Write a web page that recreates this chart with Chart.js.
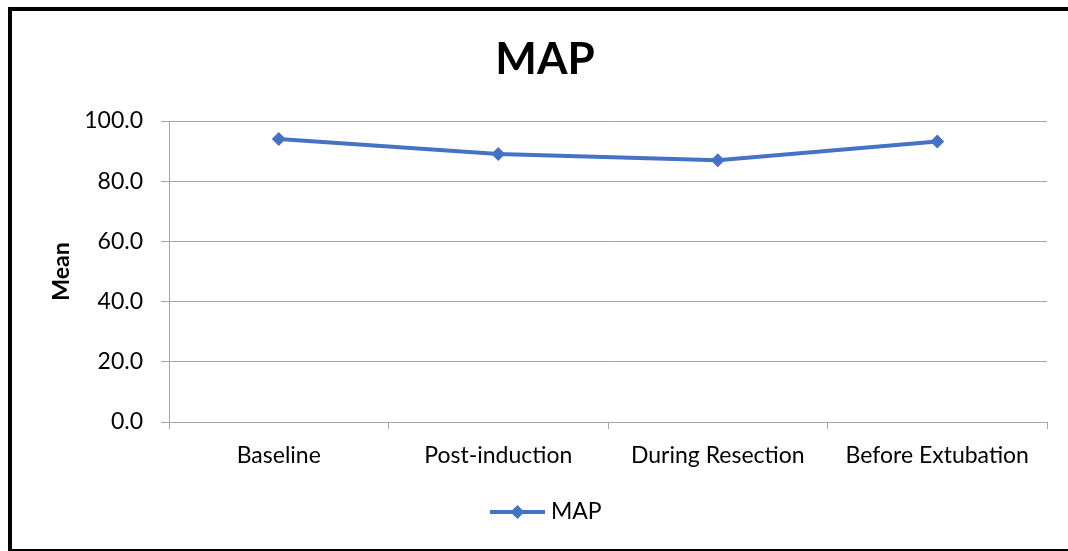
<!DOCTYPE html>
<html>
<head>
<meta charset="utf-8">
<script src="https://cdn.jsdelivr.net/npm/chart.js@4/dist/chart.umd.min.js"></script>
<style>
  html, body { margin: 0; padding: 0; background: #fff; }
  #wrap { width: 1068px; height: 551px; position: relative; }
</style>
</head>
<body>
<div id="wrap"><canvas id="c" width="1068" height="551"></canvas></div>
<script>
// Mean arterial pressure at each stage of the procedure
const categories = ['Baseline', 'Post-induction', 'During Resection', 'Before Extubation'];
const mapValues = [94.0, 89.0, 87.0, 93.2];
const yTicks = [0, 20, 40, 60, 80, 100];

const BLUE = '#4472C4';
const GRID = '#A6A6A6';
const FONT = 'Lato, "Open Sans", sans-serif';

// Legend symbol: a short line with a diamond in its middle
function legendSymbol() {
  const cv = document.createElement('canvas');
  cv.width = 55; cv.height = 16;
  const g = cv.getContext('2d');
  g.strokeStyle = BLUE; g.lineWidth = 4;
  g.beginPath(); g.moveTo(0, 8); g.lineTo(55, 8); g.stroke();
  g.fillStyle = BLUE;
  g.beginPath(); g.moveTo(27.5, 1); g.lineTo(34.5, 8); g.lineTo(27.5, 15); g.lineTo(20.5, 8); g.closePath(); g.fill();
  return cv;
}

// White background plus the black outer frame
const framePlugin = {
  id: 'frame',
  beforeDraw(chart) {
    const ctx = chart.ctx;
    ctx.save();
    ctx.fillStyle = '#fff';
    ctx.fillRect(0, 0, chart.width, chart.height);
    ctx.fillStyle = '#000';
    ctx.fillRect(8, 7, chart.width - 8, 4);
    ctx.fillRect(8, 7, 4, chart.height - 7);
    ctx.fillRect(8, 549, chart.width - 8, 2);
    ctx.restore();
  }
};

// Centre the title and legend on the framed area rather than the plot box
const centreBlocks = {
  id: 'centreBlocks',
  afterLayout(chart) {
    if (chart.titleBlock) { chart.titleBlock.left = 22; chart.titleBlock.right = 1068; }
    if (chart.legend) { chart.legend.left += 19; chart.legend.right += 19; }
  }
};

new Chart(document.getElementById('c'), {
  type: 'line',
  data: {
    labels: categories,
    datasets: [{
      label: 'MAP',
      data: mapValues,
      borderColor: BLUE,
      backgroundColor: BLUE,
      borderWidth: 4,
      pointStyle: 'rectRot',
      pointRadius: 7,
      pointHoverRadius: 7,
      pointBackgroundColor: BLUE,
      pointBorderColor: BLUE,
      pointBorderWidth: 0,
      tension: 0
    }]
  },
  options: {
    responsive: false,
    animation: false,
    devicePixelRatio: 1,
    layout: { padding: { left: 12, right: 21, top: 0, bottom: 17.5 } },
    plugins: {
      title: {
        display: true,
        text: 'MAP',
        color: '#000',
        font: { family: FONT, size: 44, weight: 'bold' },
        padding: { top: 33, bottom: 35.2 }
      },
      legend: {
        display: true,
        position: 'bottom',
        labels: {
          color: '#000',
          font: { family: FONT, size: 23 },
          usePointStyle: true,
          pointStyle: legendSymbol(),
          pointStyleWidth: 44,
          padding: 18.5
        }
      },
      tooltip: { enabled: false }
    },
    scales: {
      x: {
        type: 'category',
        offset: true,
        grid: {
          offset: true,
          drawOnChartArea: false,
          drawTicks: true,
          tickLength: 7,
          color: GRID,
          lineWidth: 1
        },
        border: { display: true, color: GRID, width: 1 },
        ticks: {
          color: '#000',
          font: { family: FONT, size: 23 },
          padding: 13,
          maxRotation: 0,
          autoSkip: false
        },
        afterFit(scale) { scale.height = 60; }
      },
      y: {
        min: 0,
        max: 100,
        afterBuildTicks(scale) { scale.ticks = yTicks.map(v => ({ value: v })); },
        grid: {
          color: GRID,
          lineWidth: 1,
          drawTicks: true,
          tickLength: 8
        },
        border: { display: true, color: GRID, width: 1 },
        ticks: {
          color: '#000',
          font: { family: FONT, size: 23 },
          padding: 18,
          callback: v => Number(v).toFixed(1)
        },
        title: {
          display: true,
          text: 'Mean',
          color: '#000',
          font: { family: FONT, size: 23, weight: 'bold' },
          padding: { top: 36, bottom: 0 }
        },
        afterFit(scale) { scale.width = 157; }
      }
    }
  },
  plugins: [framePlugin, centreBlocks]
});
</script>
</body>
</html>
